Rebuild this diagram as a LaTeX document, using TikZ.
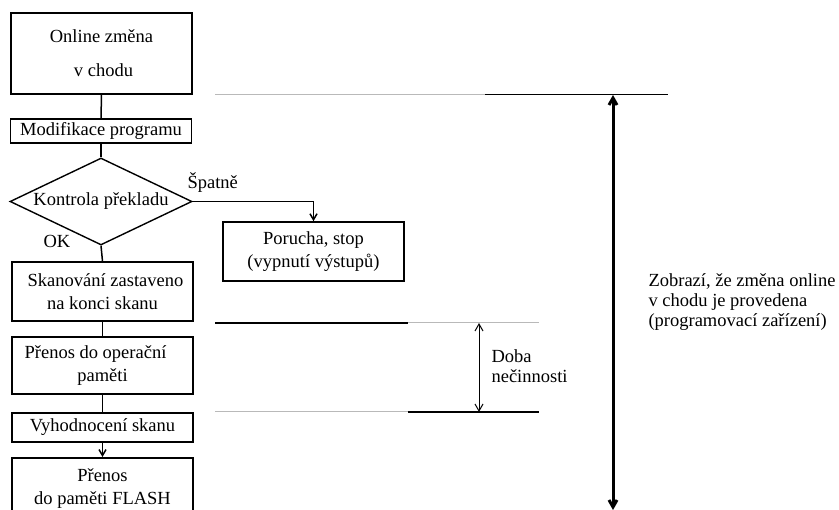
\documentclass[tikz,border=0pt]{standalone}
\usepackage{fontspec}
\setmainfont{Liberation Serif}
\usetikzlibrary{shapes.geometric,arrows.meta}
\begin{document}
\begin{tikzpicture}[x=1pt,y=-1pt,
  every node/.style={font=\fontsize{18.5}{23}\selectfont},
  box/.style={draw,line width=1.6pt,rectangle,minimum width=181pt,inner sep=0pt,align=center},
  dec/.style={draw,line width=1.4pt,diamond,aspect=2.09,minimum width=182pt,minimum height=87pt,inner sep=0pt},
  link/.style={line width=1.5pt},
  tip/.style={-{Straight Barb[length=6pt,width=7pt]}},
  rule/.style={line width=1pt},
  faint/.style={line width=1pt,gray!55},
  span/.style={{Straight Barb[length=7pt,width=8pt]}-{Straight Barb[length=7pt,width=8pt]}}]
\clip (0,0) rectangle (839,510);
\fill[white] (0,0) rectangle (839,510);

% flowchart boxes
\node[box,minimum height=81pt] (online) at (101.5,53.5) {Online změna\\[11pt]\hspace*{4pt}v chodu};
\node[box,minimum height=24pt] (modif) at (101,131) {Modifikace programu};
\node[dec] (check) at (101,201.5) {Kontrola překladu};
\node[box,minimum height=59pt] (fault) at (313.5,251.5) {Porucha, stop\\(vypnutí výstupů)};
\node[box,minimum height=59pt] (halt) at (102.5,291.5) {\hspace*{6pt}Skanování zastaveno\\na konci skanu};
\node[box,minimum height=57pt] (transfer) at (102.5,365.5) {Přenos do operační\hspace*{14pt}\\paměti};
\node[box,minimum height=29pt] (evaluate) at (102.5,427.5) {Vyhodnocení skanu};
\node[box,minimum height=62pt,anchor=north] (flash) at (102.5,457) {Přenos\\do paměti FLASH};

% connectors
\draw[link] (online.south) -- (modif.north);
\draw[link] (modif.south) -- (check.north);
\draw[link] (check.south) -- (halt.north);
\draw[link] (halt.south) -- (transfer.north);
\draw[link] (transfer.south) -- (evaluate.north);
\draw[link,tip] (evaluate.south) -- (flash.north);
\draw[link,tip] (check.east) -| (fault.north);

% branch labels
\node[anchor=west] (bad) at (184,183) {Špatně};
\node (ok) at (57,241) {OK};

% timing markers
\coordinate (t0a) at (215,95);
\coordinate (t0m) at (485,95);
\coordinate (t0b) at (668,95);
\coordinate (t1a) at (215,323);
\coordinate (t1m) at (408,323);
\coordinate (t1b) at (539,323);
\coordinate (t2a) at (215,412);
\coordinate (t2m) at (408,412);
\coordinate (t2b) at (539,412);
\draw[faint] (t0a) -- (t0m);
\draw[rule] (t0m) -- (t0b);
\draw[rule,line width=1.4pt] (t1a) -- (t1m);
\draw[faint] (t1m) -- (t1b);
\draw[faint] (t2a) -- (t2m);
\draw[rule,line width=1.4pt] (t2m) -- (t2b);

\coordinate (idleTop) at (479,323);
\coordinate (idleBot) at (479,412);
\draw[span,line width=1pt] (idleTop) -- (idleBot);

\coordinate (allTop) at (613,95);
\coordinate (allBot) at (613,510);
\draw[span,line width=3pt] (allTop) -- (allBot);

\node[anchor=west,align=left,font=\fontsize{18.5}{20}\selectfont] (idle) at (488,366) {Doba\\nečinnosti};
\node[anchor=west,align=left,font=\fontsize{18.5}{20}\selectfont] (shown) at (645,302) {Zobrazí, že změna online\\v chodu je provedena\\(programovací zařízení)};
\end{tikzpicture}
\end{document}
